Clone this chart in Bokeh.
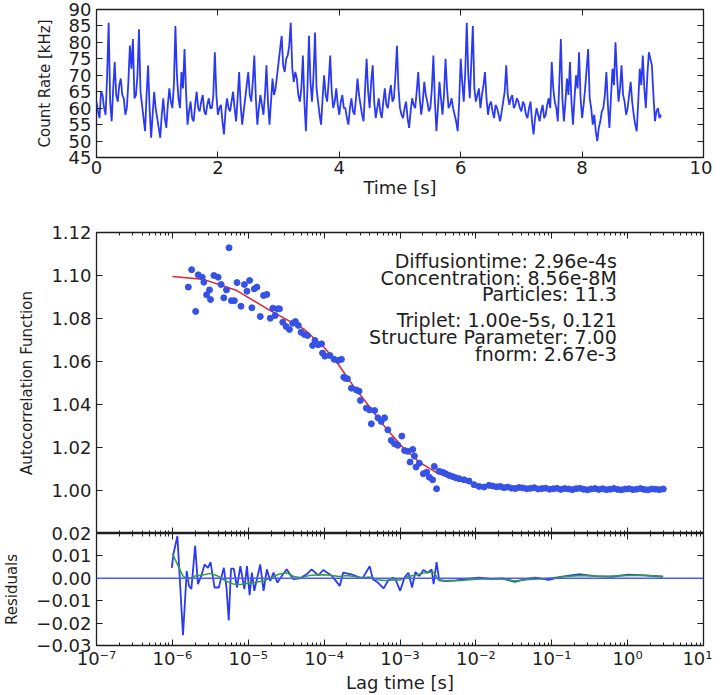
import numpy as np
from bokeh.plotting import figure
from bokeh.models import (Range1d, LinearAxis, LogAxis, FixedTicker, LogTicker, Label, Span,
                          CustomJSTickFormatter, NumeralTickFormatter)
from bokeh.layouts import column
from bokeh.embed import file_html
from bokeh.resources import INLINE

# ---------------- data ----------------
count_time_step = 0.025  # s
count_rate_khz = [
    62, 59, 57, 65, 64, 60, 58, 70, 86, 62, 56, 66, 74, 64, 62, 67, 69, 64, 63, 58,
    60, 68, 79, 72, 81, 63, 64, 70, 84, 65, 61, 57, 53, 64, 73, 60, 51, 58, 65, 60,
    57, 54, 51, 58, 63, 57, 54, 61, 66, 62, 60, 67, 85, 70, 63, 60, 71, 66, 78, 65,
    55, 59, 62, 57, 56, 61, 65, 60, 59, 62, 64, 59, 58, 61, 63, 60, 60, 64, 77, 64,
    58, 60, 61, 56, 52, 59, 63, 60, 59, 62, 65, 60, 56, 63, 71, 61, 55, 59, 63, 67,
    71, 64, 62, 68, 76, 63, 55, 60, 64, 61, 58, 64, 73, 62, 55, 62, 69, 64, 66, 70,
    74, 78, 82, 73, 71, 75, 76, 79, 86, 72, 68, 71, 69, 64, 62, 66, 76, 62, 53, 66,
    82, 68, 62, 70, 83, 66, 62, 58, 55, 63, 70, 64, 62, 68, 76, 65, 60, 62, 66, 61,
    58, 62, 64, 60, 60, 57, 55, 60, 63, 59, 58, 63, 69, 64, 61, 58, 56, 66, 75, 65,
    60, 68, 73, 62, 57, 60, 63, 59, 57, 62, 66, 61, 60, 64, 67, 62, 63, 70, 79, 66,
    60, 58, 57, 60, 62, 57, 54, 59, 63, 61, 60, 65, 71, 63, 58, 62, 68, 64, 62, 59,
    60, 66, 76, 62, 53, 60, 68, 63, 58, 64, 75, 66, 60, 61, 63, 60, 58, 56, 53, 62,
    75, 68, 62, 71, 86, 70, 63, 74, 85, 66, 62, 64, 66, 60, 64, 67, 71, 63, 58, 61,
    62, 59, 57, 61, 60, 58, 56, 59, 62, 65, 73, 64, 61, 63, 64, 60, 61, 63, 62, 60,
    59, 62, 61, 58, 57, 60, 62, 56, 52, 57, 60, 58, 56, 59, 61, 57, 58, 61, 63, 60,
    74, 66, 62, 60, 56, 68, 81, 63, 56, 62, 69, 64, 74, 62, 55, 63, 70, 66, 77, 63,
    57, 61, 66, 72, 78, 63, 60, 55, 58, 53, 50, 54, 56, 59, 60, 64, 71, 61, 54, 63,
    72, 67, 80, 70, 62, 66, 73, 64, 62, 58, 60, 64, 68, 62, 58, 55, 53, 62, 72, 67,
    76, 66, 60, 70, 77, 75, 73, 64, 56, 59, 60, 57, 58,
]

# autocorrelation data: log10(lag time [s]) and G(tau)
acf_log_lag = [
    -5.79, -5.746, -5.693, -5.659, -5.607, -5.585, -5.549, -5.51, -5.497, -5.453,
    -5.397, -5.357, -5.322, -5.287, -5.253, -5.222, -5.182, -5.148, -5.096, -5.051,
    -5.017, -4.982, -4.952, -4.92, -4.886, -4.842, -4.798, -4.755, -4.71, -4.676,
    -4.645, -4.615, -4.589, -4.545, -4.501, -4.457, -4.414, -4.379, -4.34, -4.304,
    -4.261, -4.218, -4.152, -4.121, -4.077, -4.034, -4.021, -3.99, -3.924, -3.868,
    -3.815, -3.772, -3.741, -3.72, -3.693, -3.64, -3.575, -3.54, -3.522, -3.444,
    -3.4, -3.378, -3.334, -3.291, -3.247, -3.203, -3.16, -3.116, -3.072, -3.029,
    -2.976, -2.941, -2.898, -2.867, -2.832, -2.81, -2.789, -2.745, -2.692, -2.649,
    -2.614, -2.57, -2.548, -2.518, -2.483, -2.439, -2.396, -2.352, -2.308, -2.265,
    -2.221, -2.155, -2.09, -2.024, -1.958, -1.893, -1.827,
    -1.78, -1.73, -1.68, -1.63, -1.58, -1.53, -1.48, -1.43, -1.38, -1.33,
    -1.28, -1.23, -1.18, -1.13, -1.08, -1.03, -0.98, -0.93, -0.88, -0.83,
    -0.78, -0.73, -0.68, -0.63, -0.58, -0.53, -0.48, -0.43, -0.38, -0.33,
    -0.28, -0.23, -0.18, -0.13, -0.08, -0.03, 0.02, 0.07, 0.12, 0.17,
    0.22, 0.27, 0.32, 0.37, 0.42, 0.47,
]
acf_values = [
    1.0946, 1.1027, 1.0833, 1.1003, 1.0992, 1.0969, 1.0910, 1.0933, 1.0888, 1.1000,
    1.0992, 1.0958, 1.0896, 1.0933, 1.1129, 1.0883, 1.0883, 1.0967, 1.0857, 1.0958,
    1.0927, 1.0977, 1.0850, 1.0938, 1.0946, 1.0809, 1.0907, 1.0912, 1.0801, 1.0848,
    1.0814, 1.0845, 1.0845, 1.0783, 1.0763, 1.0749, 1.0778, 1.0786, 1.0768, 1.0736,
    1.0726, 1.0721, 1.0675, 1.0698, 1.0678, 1.0682, 1.0639, 1.0625, 1.0628, 1.0610,
    1.0605, 1.0610, 1.0527, 1.0522, 1.0520, 1.0476, 1.0468, 1.0462, 1.0419, 1.0383,
    1.0375, 1.0310, 1.0372, 1.0338, 1.0321, 1.0338, 1.0282, 1.0233, 1.0217, 1.0210,
    1.0253, 1.0186, 1.0182, 1.0132, 1.0191, 1.0160, 1.0109, 1.0127, 1.0078, 1.0085,
    1.0062, 1.0050, 1.0112, 1.0008, 1.0089, 1.0085, 1.0078, 1.0070, 1.0065, 1.0059,
    1.0055, 1.0050, 1.0044, 1.0027, 1.0019, 1.0016, 1.0024,
    1.0021, 1.0017, 1.0019, 1.0013, 1.0016, 1.0011, 1.0009, 1.0014, 1.0012, 1.0008,
    1.0010, 1.0013, 1.0007, 1.0009, 1.0011, 1.0006, 1.0008, 1.0010, 1.0005, 1.0009,
    1.0007, 1.0004, 1.0008, 1.0010, 1.0006, 1.0003, 1.0007, 1.0009, 1.0005, 1.0008,
    1.0004, 1.0006, 1.0009, 1.0005, 1.0003, 1.0007, 1.0008, 1.0004, 1.0006, 1.0009,
    1.0005, 1.0003, 1.0007, 1.0006, 1.0004, 1.0007,
]

# fitted model curve
fit_log_lag = [-6.0, -5.6, -5.15, -4.71, -4.27, -4.0, -3.84, -3.62, -3.4, -3.18, -2.96,
               -2.745, -2.53, -2.31, -2.09, -1.875, -1.6, -1.2, -0.6, 0.0, 0.5]
fit_values = [1.0995, 1.0983, 1.0930, 1.0837, 1.0752, 1.0665, 1.0600, 1.0489, 1.0388, 1.0287,
              1.0200, 1.0132, 1.0085, 1.0055, 1.0034, 1.0020, 1.0012, 1.0008, 1.0006, 1.0005, 1.0005]

# residuals
resid_log_lag = [
    -6.008, -5.987, -5.934, -5.86, -5.811, -5.781, -5.75, -5.70, -5.663, -5.62,
    -5.575, -5.532, -5.497, -5.445, -5.388, -5.322, -5.287, -5.257, -5.227, -5.191,
    -5.148, -5.104, -5.051, -5.017, -4.982, -4.952, -4.92, -4.886, -4.842, -4.798,
    -4.755, -4.71, -4.667, -4.615, -4.558, -4.493, -4.405, -4.317, -4.23, -4.165,
    -4.077, -4.012, -3.903, -3.793, -3.75, -3.64, -3.531, -3.488, -3.4, -3.357,
    -3.291, -3.216, -3.16, -3.094, -3.05, -2.998, -2.941, -2.889, -2.841, -2.797,
    -2.745, -2.692, -2.636, -2.583, -2.557, -2.518, -2.483, -2.396, -2.265, -2.09,
    -1.958, -1.784, -1.653, -1.487, -1.347, -1.216, -1.041, -0.866, -0.648, -0.43,
    -0.211, 0.008, 0.226, 0.466,
]
resid_values = [
    0.0047, 0.0106, 0.0189, -0.0254, 0.0032, -0.0034, -0.0048, 0.0145, -0.0026, 0.0010,
    0.0062, 0.0047, 0.0072, -0.0041, -0.0041, 0.0047, -0.0041, -0.0188, 0.0043, 0.0043,
    -0.0041, 0.0054, -0.0048, 0.0054, -0.0075, 0.0025, -0.0056, -0.0004, 0.0062, -0.0056,
    0.0040, -0.0012, 0.0025, -0.0019, 0.0010, 0.0040, -0.0004, 0.0000, 0.0018, 0.0040,
    0.0013, 0.0037, 0.0013, -0.0034, 0.0025, 0.0018, 0.0003, 0.0003, 0.0054, -0.0004,
    -0.0019, -0.0045, -0.0012, 0.0003, -0.0012, -0.0056, 0.0003, 0.0025, -0.0041, 0.0028,
    0.0010, 0.0037, 0.0025, 0.0040, -0.0026, 0.0072, -0.0009, -0.0012, -0.0009, -0.0001,
    0.0003, -0.0004, 0.0000, -0.0016, -0.0004, 0.0003, -0.0007, 0.0007, 0.0018, 0.0010,
    0.0007, 0.0016, 0.0013, 0.0007,
]

# smoothed residuals
smooth_log_lag = [
    -6.0, -5.93, -5.86, -5.8, -5.7, -5.6, -5.5, -5.4, -5.3, -5.2, -5.1, -5.0, -4.9,
    -4.8, -4.7, -4.6, -4.5, -4.4, -4.3, -4.2, -4.1, -4.0, -3.9, -3.8, -3.7, -3.6,
    -3.5, -3.4, -3.3, -3.2, -3.1, -3.0, -2.9, -2.8, -2.7, -2.6, -2.55, -2.5, -2.4,
    -2.2, -2.0, -1.8, -1.6, -1.5, -1.3, -1.1, -0.9, -0.6, -0.3, 0.0, 0.2, 0.47,
]
smooth_values = [
    0.0110, 0.0060, 0.0010, -0.0005, 0.0010, 0.0015, 0.0022, 0.0010, -0.0012, -0.0025,
    -0.0028, -0.0022, -0.0018, -0.0012, 0.0002, 0.0018, 0.0025, 0.0008, 0.0003, 0.0012,
    0.0015, 0.0016, 0.0012, 0.0008, 0.0012, 0.0008, 0.0003, 0.0006, -0.0006, -0.0010,
    -0.0006, -0.0008, 0.0008, 0.0014, 0.0022, 0.0028, 0.0026, -0.0005, -0.0012, -0.0010,
    -0.0004, -0.0002, -0.0004, -0.0012, -0.0005, -0.0002, 0.0006, 0.0012, 0.0008, 0.0013,
    0.0014, 0.0008,
]

fit_text = [
    "Diffusiontime: 2.96e-4s",
    "Concentration: 8.56e-8M",
    "Particles: 11.3",
    "Triplet: 1.00e-5s, 0.121",
    "Structure Parameter: 7.00",
    "fnorm: 2.67e-3",
]

count_ticks_x = [0, 2, 4, 6, 8, 10]
count_ticks_y = [45, 50, 55, 60, 65, 70, 75, 80, 85, 90]
acf_ticks_y = [1.00, 1.02, 1.04, 1.06, 1.08, 1.10, 1.12]
resid_ticks_y = [-0.03, -0.02, -0.01, 0.0, 0.01, 0.02]

# ---------------- styling helpers ----------------
FONT = "DejaVu Sans"
INK = "#1e1e1e"
TICK_FS = "18px"
XLABEL_FS = "18px"
YLABEL_FS = "15px"


def style_axis(ax, labels=True, vertical=False):
    ax.axis_line_color = None
    ax.major_tick_in = 6
    ax.major_tick_out = 0
    ax.minor_tick_in = 3
    ax.minor_tick_out = 0
    ax.major_tick_line_color = INK
    ax.minor_tick_line_color = INK
    ax.major_label_text_font = FONT
    ax.axis_label_text_font = FONT
    ax.axis_label_text_font_style = "normal"
    ax.axis_label_text_font_size = YLABEL_FS if vertical else XLABEL_FS
    ax.axis_label_text_color = INK
    if labels:
        ax.major_label_text_color = INK
        ax.major_label_text_font_size = TICK_FS
        ax.major_label_standoff = 5 if vertical else 3
        ax.axis_label_standoff = 12 if vertical else 0
    else:
        ax.formatter = CustomJSTickFormatter(code="return '';")
        ax.major_label_text_color = None
        ax.major_label_text_font_size = "1px"
        ax.major_label_standoff = 0
        ax.axis_label_standoff = 0


def base_fig(**kw):
    p = figure(output_backend="svg", toolbar_location=None, width=712,
               min_border_left=92, min_border_right=9, **kw)
    p.grid.visible = False
    p.outline_line_color = INK
    p.outline_line_width = 1.3
    p.background_fill_color = "white"
    return p


sup_js = """
const e = Math.round(Math.log10(tick));
const sup = {'-':'\u207b','0':'\u2070','1':'\u00b9','2':'\u00b2','3':'\u00b3','4':'\u2074',
             '5':'\u2075','6':'\u2076','7':'\u2077','8':'\u2078','9':'\u2079'};
return '10' + String(e).split('').map(c => sup[c]).join('');
"""

# ---------------- top panel: count rate ----------------
p1 = base_fig(height=206, x_range=Range1d(0, 10), y_range=Range1d(45, 90),
              min_border_top=9, min_border_bottom=49)
times = np.arange(len(count_rate_khz)) * count_time_step
p1.line(times, count_rate_khz, line_color="#2b3af2", line_width=1.8)
p1.xaxis.ticker = FixedTicker(ticks=count_ticks_x, minor_ticks=[])
p1.yaxis.ticker = FixedTicker(ticks=count_ticks_y, minor_ticks=[])
p1.xaxis.axis_label = "Time [s]"
p1.yaxis.axis_label = "Count Rate [kHz]"
style_axis(p1.xaxis[0])
style_axis(p1.yaxis[0], vertical=True)
ax_top = LinearAxis(ticker=FixedTicker(ticks=count_ticks_x, minor_ticks=[]))
ax_right = LinearAxis(ticker=FixedTicker(ticks=count_ticks_y, minor_ticks=[]))
style_axis(ax_top, labels=False)
style_axis(ax_right, labels=False)
p1.add_layout(ax_top, "above")
p1.add_layout(ax_right, "right")

# ---------------- middle panel: autocorrelation ----------------
p2 = base_fig(height=327, x_axis_type="log", x_range=Range1d(1e-7, 1e1),
              y_range=Range1d(0.98, 1.12), min_border_top=26, min_border_bottom=0)
acf_lag = 10.0 ** np.array(acf_log_lag)
fit_lag = 10.0 ** np.array(fit_log_lag)
p2.line(fit_lag, fit_values, line_color="#e0232c", line_width=1.5)
p2.scatter(acf_lag, acf_values, size=6, fill_color="#3652e6", line_color="#3652e6")
p2.xaxis.ticker = LogTicker(num_minor_ticks=10)
p2.yaxis.ticker = FixedTicker(ticks=acf_ticks_y, minor_ticks=[])
p2.yaxis.formatter = NumeralTickFormatter(format="0.00")
p2.yaxis.axis_label = "Autocorrelation Function"
style_axis(p2.xaxis[0], labels=False)
style_axis(p2.yaxis[0], vertical=True)
ax2_top = LogAxis(ticker=LogTicker(num_minor_ticks=10))
ax2_right = LinearAxis(ticker=FixedTicker(ticks=acf_ticks_y, minor_ticks=[]))
style_axis(ax2_top, labels=False)
style_axis(ax2_right, labels=False)
p2.add_layout(ax2_top, "above")
p2.add_layout(ax2_right, "right")

text_x = 0.72
text_y = [1.1067, 1.0988, 1.0912, 1.0791, 1.0712, 1.0634]
for s, ty in zip(fit_text, text_y):
    p2.add_layout(Label(x=text_x, y=ty, text=s, text_align="right", text_baseline="middle",
                        text_font=FONT, text_font_size="19px", text_color=INK))

# ---------------- bottom panel: residuals ----------------
p3 = base_fig(height=172, x_axis_type="log", x_range=Range1d(1e-7, 1e1),
              y_range=Range1d(-0.03, 0.02), min_border_top=10, min_border_bottom=48,
              margin=(-10, 0, 0, 0))
p3.border_fill_color = None
p3.add_layout(Span(location=0, dimension="width", line_color="#4a5cff", line_width=1.5))
resid_lag = 10.0 ** np.array(resid_log_lag)
smooth_lag = 10.0 ** np.array(smooth_log_lag)
p3.line(resid_lag, resid_values, line_color="#2b3af2", line_width=1.8)
p3.line(smooth_lag, smooth_values, line_color="#32a032", line_width=1.5)
p3.xaxis.ticker = LogTicker(num_minor_ticks=10)
p3.yaxis.ticker = FixedTicker(ticks=resid_ticks_y, minor_ticks=[])
p3.xaxis.axis_label = "Lag time [s]"
p3.yaxis.axis_label = "Residuals"
style_axis(p3.xaxis[0])
style_axis(p3.yaxis[0], vertical=True)
p3.xaxis.formatter = CustomJSTickFormatter(code=sup_js)
p3.yaxis.formatter = CustomJSTickFormatter(
    code="return (tick < -1e-9 ? '\u2212' : '') + Math.abs(tick).toFixed(2);")
p3.xaxis[0].major_label_standoff = 2
ax3_top = LogAxis(ticker=LogTicker(num_minor_ticks=10))
ax3_right = LinearAxis(ticker=FixedTicker(ticks=resid_ticks_y, minor_ticks=[]))
style_axis(ax3_top, labels=False)
style_axis(ax3_right, labels=False)
p3.add_layout(ax3_top, "above")
p3.add_layout(ax3_right, "right")

layout = column(p1, p2, p3, spacing=0)
open("out.html", "w").write(file_html(layout, INLINE))
